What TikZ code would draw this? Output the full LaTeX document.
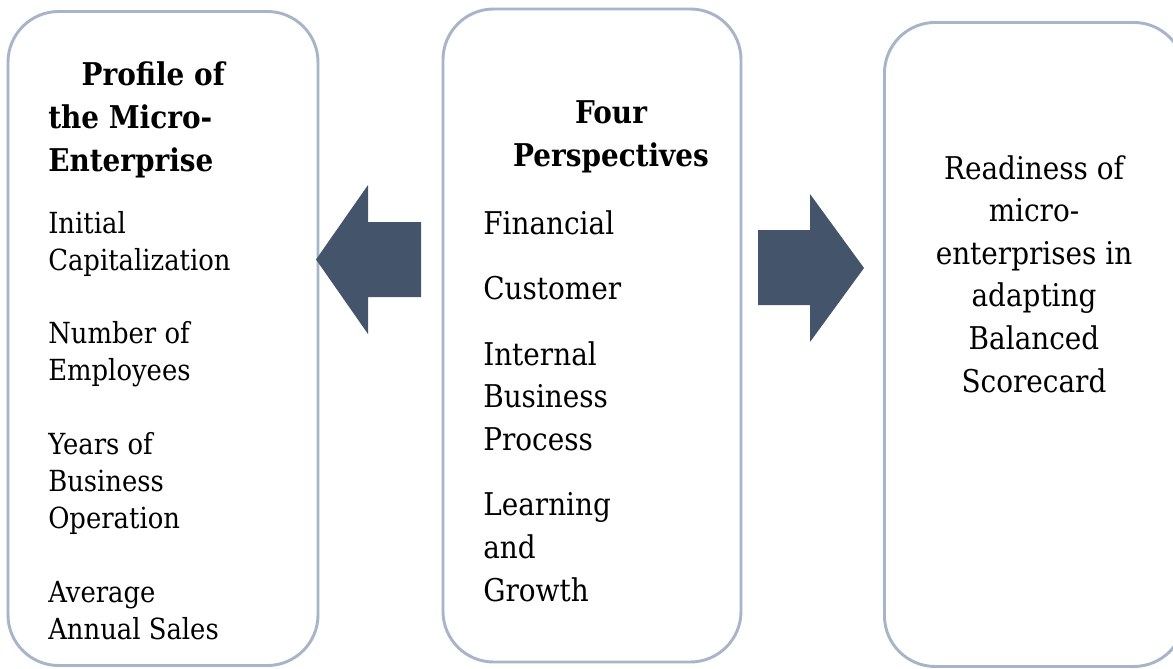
\documentclass[tikz,border=0pt]{standalone}
\usepackage{fontspec}
\setmainfont[FakeStretch=0.89]{DejaVu Serif}
\usetikzlibrary{positioning}
\definecolor{panelline}{HTML}{A8B5C9}
\definecolor{slate}{HTML}{44546A}
\tikzset{
  panel/.style={draw=panelline,line width=2.2pt,rounded corners=38pt,inner sep=0pt},
  blockarrow/.style={fill=slate},
  headtext/.style={font=\fontsize{23.5}{32.25}\selectfont\bfseries,inner sep=0pt},
  smalltext/.style={font=\fontsize{21.8}{27.75}\selectfont,align=left,anchor=base west,inner sep=0pt},
  bigtext/.style={font=\fontsize{23.5}{31.9}\selectfont,inner sep=0pt}
}
\begin{document}
\begin{tikzpicture}[x=0.75pt,y=-0.75pt]
  \useasboundingbox (0,0) rectangle (1173,668);
  % the three panels
  \node[panel,minimum width=232.5pt,minimum height=490.5pt] (profile) at (163,338.5) {};
  \node[panel,minimum width=223.5pt,minimum height=489.75pt] (persp) at (592,335.5) {};
  \node[panel,minimum width=225pt,minimum height=483pt,anchor=north west] (ready) at (883,21) {};
  % block arrows
  \fill[blockarrow] (316,259.5) -- (368,185) -- (368,222) -- (421,222)
    -- (421,297) -- (368,297) -- (368,334) -- cycle;
  \fill[blockarrow] (758,230) -- (810,230) -- (810,194) -- (864,268)
    -- (810,342) -- (810,305) -- (758,305) -- cycle;
  % left panel (base = last line)
  \node[headtext,align=left,anchor=base west] (profilehead) at (48,171)
    {\hspace*{25pt}Profile of\\the Micro-\\Enterprise};
  \node[smalltext] (profileitems) at (48,639)
    {Initial\\Capitalization\\[27.4pt]
     Number of\\Employees\\[27.4pt]
     Years of\\Business\\Operation\\[27.4pt]
     Average\\Annual Sales};
  % middle panel
  \node[headtext,align=center,anchor=base] (persphead) at (611,166)
    {Four\\Perspectives};
  \node[bigtext,align=left,anchor=base west] (perspitems) at (483,601)
    {Financial\\[17.3pt]
     Customer\\[17.3pt]
     Internal\\Business\\Process\\[17.3pt]
     Learning\\and\\Growth};
  % right panel
  \node[bigtext,align=center,anchor=base] (readytext) at (1034,392)
    {Readiness of\\micro-\\enterprises in\\adapting\\Balanced\\Scorecard};
\end{tikzpicture}
\end{document}
